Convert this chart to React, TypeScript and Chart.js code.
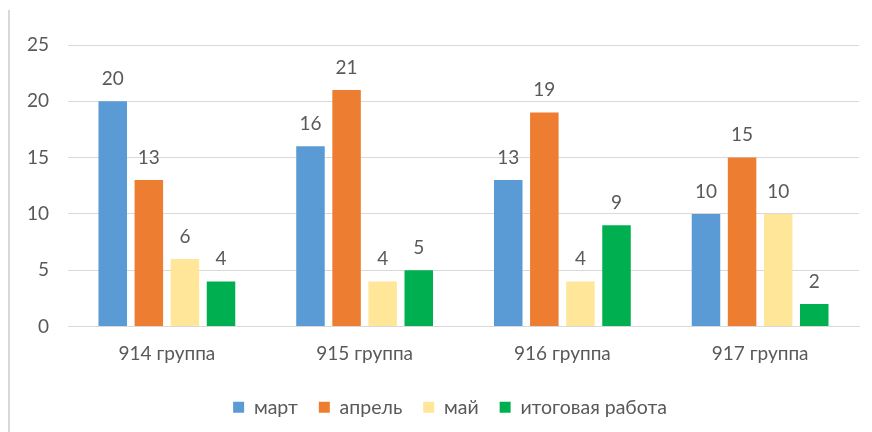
import React, { useEffect, useRef } from "react";
import { Chart, registerables } from "chart.js";

Chart.register(...registerables);

const categories = ["914 группа", "915 группа", "916 группа", "917 группа"];
const seriesNames = ["март", "апрель", "май", "итоговая работа"];
const march = [20, 16, 13, 10];
const april = [13, 21, 19, 15];
const may = [6, 4, 4, 10];
const finalWork = [4, 5, 9, 2];
const seriesColors = ["#5B9BD5", "#ED7D31", "#FFE699", "#00B050"];
const yTicks = [0, 5, 10, 15, 20, 25];

const FONT = "Lato, 'Open Sans', sans-serif";
const TEXT = "#595959";

const dataLabels = {
  id: "dataLabels",
  afterDatasetsDraw(chart: any) {
    const ctx = chart.ctx;
    ctx.save();
    ctx.font = `19px ${FONT}`;
    ctx.fillStyle = TEXT;
    ctx.textAlign = "center";
    ctx.textBaseline = "bottom";
    chart.data.datasets.forEach((ds: any, i: number) => {
      const meta = chart.getDatasetMeta(i);
      meta.data.forEach((bar: any, j: number) => {
        ctx.fillText(String(ds.data[j]), bar.x, bar.y - 13);
      });
    });
    ctx.restore();
  },
};

const frame = {
  id: "frame",
  beforeDraw(chart: any) {
    if (chart.legend) chart.legend.left = 41;
    const ctx = chart.ctx;
    ctx.save();
    ctx.fillStyle = "#ffffff";
    ctx.fillRect(0, 0, chart.width, chart.height);
    ctx.strokeStyle = "#d9d9d9";
    ctx.lineWidth = 2;
    ctx.beginPath();
    ctx.moveTo(9, 10);
    ctx.lineTo(9, chart.height);
    ctx.stroke();
    ctx.restore();
  },
};

export default function App() {
  const ref = useRef<HTMLCanvasElement>(null);
  useEffect(() => {
    const values = [march, april, may, finalWork];
    const chart = new Chart(ref.current!, {
      type: "bar",
      data: {
        labels: categories,
        datasets: seriesNames.map((name, i) => ({
          label: name,
          data: values[i],
          backgroundColor: seriesColors[i],
          categoryPercentage: 0.73,
          barPercentage: 0.79,
        })),
      },
      options: {
        animation: false,
        responsive: false,
        maintainAspectRatio: false,
        layout: { padding: { top: 45, right: 13, bottom: 5, left: 0 } },
        plugins: {
          legend: {
            position: "bottom",
            labels: {
              font: { family: FONT, size: 19.5 },
              color: TEXT,
              boxWidth: 11,
              boxHeight: 11,
              padding: 21,
            },
          },
          tooltip: { enabled: false },
        },
        scales: {
          x: {
            grid: { display: false, drawTicks: false },
            border: { display: true, color: "#d9d9d9", width: 1 },
            ticks: { font: { family: FONT, size: 19 }, color: TEXT, padding: 16 },
            afterFit: (s: any) => { s.height = 50; },
          },
          y: {
            min: 0,
            max: 25,
            afterBuildTicks: (s: any) => { s.ticks = yTicks.map((v) => ({ value: v })); },
            grid: { color: "#d9d9d9", drawTicks: false },
            border: { display: false },
            ticks: { font: { family: FONT, size: 19 }, color: TEXT, padding: 19 },
            afterFit: (s: any) => { s.width = 68; },
          },
        },
      },
      plugins: [frame, dataLabels],
    });
    return () => chart.destroy();
  }, []);
  return (
    <div style={{ position: "fixed", left: 0, top: 0, width: 872, height: 432 }}>
      <canvas ref={ref} width={872} height={432} style={{ display: "block" }} />
    </div>
  );
}
